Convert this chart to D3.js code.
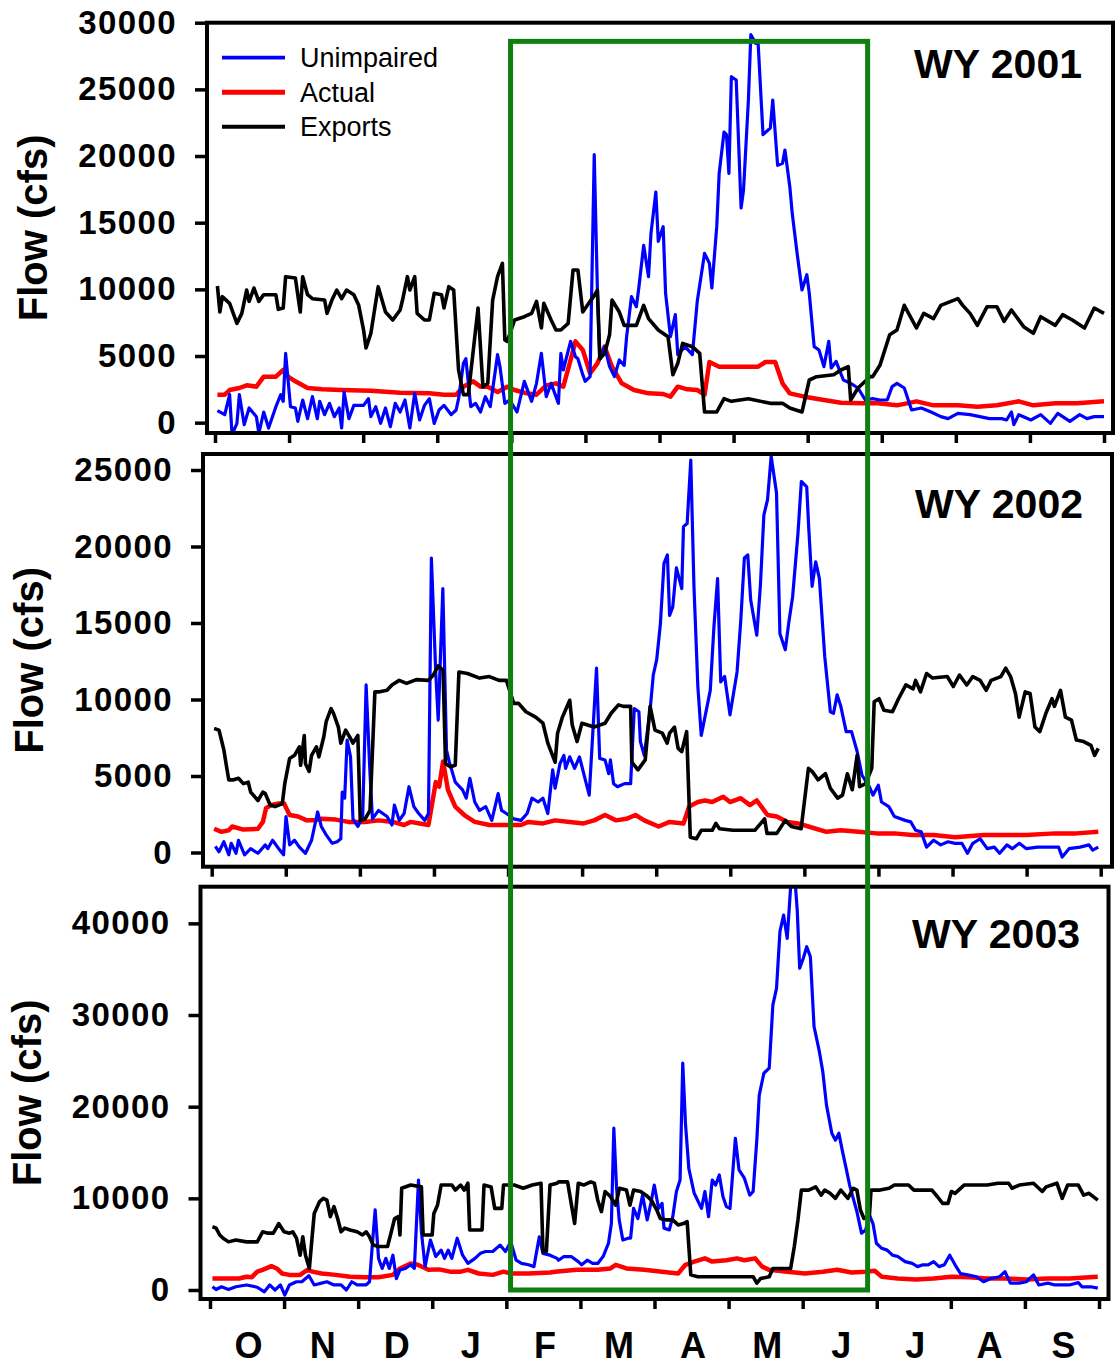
<!DOCTYPE html>
<html>
<head>
<meta charset="utf-8">
<script src="https://cdn.jsdelivr.net/npm/d3@7"></script>
<style>
  body { margin: 0; background: #fff; }
  svg text { font-family: Arial, "Liberation Sans", sans-serif; }
</style>
</head>
<body>
<div id="chart"></div>
<script>
// water year months, Oct..Sep
const months = ["O","N","D","J","F","M","A","M","J","J","A","S"];
const yearLabels = ["WY 2001","WY 2002","WY 2003"];
const seriesNames = ["Unimpaired","Actual","Exports"];
const yTicks2001 = [0,5000,10000,15000,20000,25000,30000];
const yTicks2002 = [0,5000,10000,15000,20000,25000];
const yTicks2003 = [0,10000,20000,30000,40000];
// highlighted period (days of water year) and flow range of the box
const highlightDays = [123.4, 270];
const highlightFlow = [28600, 0];

// [day of water year, flow cfs]
const unimpaired2001 = [[1,900],[4,600],[6,2100],[7,-900],[9,-50],[10,2100],[12,-150],[14,1100],[17,450],[18,-800],[20,800],[22,-400],[25,1200],[27,2100],[28,1600],[29,5200],[31,1200],[33,1100],[34,100],[36,1700],[38,300],[40,1950],[42,300],[43,1600],[45,600],[47,1450],[49,450],[51,1100],[52,-400],[53,2300],[55,300],[57,1300],[61,1300],[63,1800],[64,450],[66,1200],[68,-50],[70,1100],[72,-300],[74,1450],[76,800],[78,1700],[80,-400],[82,2200],[84,200],[86,1300],[88,1800],[90,-50],[92,950],[94,1300],[97,600],[99,950],[100,1800],[102,4450],[103,4800],[105,1200],[107,1450],[109,800],[111,1950],[113,1200],[116,5100],[117,4200],[119,1450],[121,1700],[124,800],[127,3100],[130,1600],[132,2950],[134,5200],[136,1950],[138,2950],[141,1450],[142,5200],[143,3950],[146,6100],[148,4950],[149,4800],[151,3600],[152,3100],[154,3450],[155.7,20100],[157,9950],[158,4800],[160,5700],[162,4200],[164,3450],[166,4700],[168,4300],[169,6450],[171,9450],[173,8700],[174,10100],[176,13300],[178,10950],[179,14200],[181,17300],[182,13600],[184,14700],[185,9700],[187,6450],[189,8100],[190,5100],[193,5700],[196,5100],[198,9100],[201,12700],[203,11950],[204,10100],[206,14700],[207,18700],[209,21800],[210,21600],[211,18700],[212,25950],[214,25700],[216,16100],[217,17450],[219,24200],[220,29100],[222,28450],[223,28450],[225,21600],[228,22100],[229,24200],[231,19300],[233,19450],[234,20450],[236,17700],[237,15700],[239,12700],[241,9950],[243,11100],[244,9700],[246,5700],[248,5450],[250,4200],[252,6100],[253,4100],[255,4600],[258,3200],[261,2950],[264,2600],[267,1700],[270,1800],[273,1700],[276,1700],[278,2700],[280,2950],[283,2600],[286,950],[290,1100],[294,800],[298,450],[301,300],[305,700],[310,600],[314,450],[318,300],[323,300],[325,200],[327,800],[328,-150],[330,600],[335,200],[339,600],[343,-50],[346,700],[351,100],[355,600],[358,300],[361,450],[365,450]];
const actual2001 = [[1,2100],[4,2100],[6,2450],[10,2600],[13,2800],[17,2700],[20,3450],[25,3450],[28,3950],[30,3450],[33,3100],[38,2600],[44,2500],[52,2450],[64,2400],[76,2250],[88,2200],[94,2100],[99,2100],[102,2700],[106,3100],[109,2700],[112,2700],[116,2300],[120,2700],[123,2450],[128,2200],[132,2100],[136,2800],[140,2950],[143,2700],[146,4700],[148,6100],[151,5450],[154,3700],[157,4450],[160,5700],[163,4200],[167,2950],[172,2450],[178,2200],[184,2150],[187,1950],[190,2700],[194,2500],[198,2450],[201,2100],[203,4550],[207,4200],[216,4200],[223,4200],[226,4550],[230,4550],[233,2950],[236,2200],[242,1950],[250,1700],[257,1500],[266,1450],[272,1450],[280,1300],[288,1600],[295,1300],[305,1300],[313,1200],[321,1300],[330,1600],[336,1300],[345,1450],[354,1450],[365,1600]];
const exports2001 = [[1,10250],[2,8300],[3,9450],[6,8950],[9,7450],[11,8200],[13,9950],[14,9100],[16,10100],[18,9100],[20,9600],[25,9600],[26,8500],[28,8600],[29,10950],[33,10850],[35,8300],[36,10950],[38,9600],[40,9300],[45,9200],[46,8200],[48,9200],[50,9950],[52,9300],[54,9950],[57,9600],[59,8800],[61,6950],[62,5600],[64,6700],[67,10200],[70,8300],[73,7700],[76,8450],[77,9200],[79,10950],[80,9950],[82,10950],[83,8200],[86,7700],[88,7700],[90,9700],[93,9600],[94,8600],[96,10200],[98,9950],[100,3950],[102,2100],[104,2100],[108,8600],[110,2700],[112,2950],[114,9200],[116,10950],[118,11950],[119,6200],[120,6100],[123,7700],[127,7950],[130,8200],[132,9100],[134,7100],[135,8950],[138,7700],[140,6950],[142,6950],[145,7450],[147,11450],[149,11450],[151,8300],[154,9100],[156,9600],[157,9950],[158,4800],[160,5200],[162,6600],[163,9200],[166,8300],[168,7300],[173,7300],[176,8800],[178,7800],[182,6950],[186,6450],[188,3600],[190,4450],[192,5950],[196,5700],[199,5200],[201,800],[206,800],[209,1800],[212,1600],[219,1800],[228,1450],[233,1450],[236,1100],[241,800],[244,3200],[247,3450],[254,3600],[257,3950],[260,4200],[261,1700],[264,2600],[269,3450],[270,3450],[273,4300],[277,6600],[280,6950],[283,8800],[288,7100],[291,8200],[295,7800],[298,8800],[305,9300],[307,8800],[310,8200],[313,7300],[317,8700],[321,8700],[324,7600],[327,8450],[332,7200],[336,6700],[339,7950],[345,7300],[348,8100],[352,7700],[357,7100],[361,8600],[365,8200]];

const unimpaired2002 = [[1.5,400],[3,50],[5,700],[7,-150],[8,600],[10,-50],[11,800],[13.5,-150],[16,250],[19,-50],[22,500],[23,250],[25,800],[27.5,250],[29.5,-150],[30.5,2350],[32,500],[34,800],[36,350],[38.5,-50],[41,800],[43.5,2650],[45,1700],[47,1150],[49.5,600],[51.5,700],[53,900],[53.6,3950],[54.6,3550],[55.6,7350],[57,6250],[58,2200],[60,1700],[62,2350],[63.4,10950],[65,5150],[66,2200],[68.5,2750],[72,2350],[74,1800],[75,3100],[77,2100],[79,2550],[81,4300],[83,3000],[85,2550],[87.5,2100],[89,2550],[90.2,19250],[92,11700],[93,8650],[94.9,17250],[96.4,6700],[97.5,5950],[100,4600],[103,4100],[104.5,3550],[106,4850],[108,3300],[110,2750],[112.5,3000],[115,2100],[117.6,3850],[119,2750],[121,2550],[124,2200],[127,2100],[129.5,2550],[131.5,3550],[134,3300],[136,3550],[138,2550],[140,5400],[141,4200],[143,5800],[144.6,6350],[145.3,5500],[147,6250],[149,5500],[151,6250],[153.4,4750],[155,3750],[158,12050],[159.3,6150],[161.5,6050],[163,5150],[163.7,6050],[165,4500],[166.6,4300],[169.5,4500],[172,4500],[173.5,9400],[175.4,9200],[176,7250],[177.6,6350],[180,9300],[181.3,11600],[182.7,12600],[184.2,14900],[185.7,18900],[187.1,19450],[188,15500],[189.3,16050],[190.8,18600],[193,17250],[193.7,21300],[195.2,21500],[196.7,25650],[198,17400],[199.6,10850],[201,7650],[202.5,8850],[204.7,10600],[206.2,14750],[207.7,17900],[209,11150],[210.6,11500],[212.8,9000],[215.7,11800],[217.2,15100],[218.7,19250],[220.1,19450],[221.3,16500],[223.8,14200],[225.3,17500],[226.7,22050],[228.2,23050],[229.7,25900],[231.9,23500],[233.3,14300],[235.5,13250],[237,15100],[238.5,16700],[240.7,20850],[242.1,24250],[244.3,23900],[245.1,21300],[246.5,17400],[248,19000],[249.5,17900],[251.7,12800],[254,9200],[255.3,9100],[256.8,10300],[258.3,9550],[260.5,7900],[262.7,7900],[265,6600],[267,5050],[270,4300],[271.5,3750],[273.7,4400],[275,3300],[278,3000],[280.3,2350],[284.7,2100],[287,2000],[289,1450],[291.3,1350],[293.5,350],[296.4,800],[299.3,500],[302.3,700],[305.2,600],[308,600],[310.3,-50],[312.5,600],[315.5,900],[318.4,250],[321.3,350],[323.5,-50],[326.5,500],[328.7,250],[331.6,600],[334.5,250],[339,350],[345,350],[347.7,350],[349.2,-300],[352,250],[356.5,350],[360.2,500],[361.7,150],[364,350]];
const actual2002 = [[1,1550],[4,1350],[7,1450],[8.4,1700],[13,1500],[19,1550],[21,2000],[22.3,2900],[24.5,3100],[27.5,3200],[29.7,3200],[32,2450],[35.5,2350],[39,2100],[42,2100],[45,2200],[51,2150],[56,2000],[63,2000],[68.5,2100],[74.4,2000],[79,1800],[81.7,2000],[85.4,1900],[89,1800],[90.5,3200],[92,4600],[93.4,4300],[95,5950],[97,4100],[100,3000],[103.7,2450],[108,2000],[114,1800],[121,1800],[127,1800],[130,2000],[136,1900],[141,2100],[147,2000],[152.7,1900],[157,2100],[161.5,2450],[166,2100],[170.3,2200],[174,2450],[177.6,2100],[183.5,1700],[188,2000],[193.7,1900],[196,3000],[199.6,3300],[202.5,3400],[205.5,3300],[210,3650],[212.8,3300],[217.2,3550],[221,3100],[223.8,3400],[228.2,2450],[232,2350],[236.3,2000],[240.7,1900],[245,1700],[252.4,1350],[258.3,1450],[265.6,1350],[273,1250],[280.3,1250],[287.6,1150],[296.4,1150],[305.2,1000],[317,1150],[325.7,1150],[334.5,1150],[346.3,1250],[355,1250],[364,1350]];
const exports2002 = [[1,8100],[3,8000],[5,6700],[6,5700],[7,4750],[9,4750],[11,4850],[13,4500],[15,4600],[16,3950],[19,3400],[21,3950],[22,3850],[24,3100],[26,3000],[29,3200],[30,4500],[32,6150],[34,6350],[36,6900],[36.5,5700],[38,7650],[38.5,5800],[40,5300],[41,6350],[43,6900],[44,6250],[46,7550],[47,8550],[49,9400],[50,9100],[52,8200],[53,7150],[55,8000],[57,7450],[58,7150],[60,7650],[61,2100],[63,2200],[65,2750],[67,10500],[69,10500],[72,10600],[74,10950],[77,11250],[80,11050],[84,11300],[89,11250],[91,11600],[93,12200],[95,11900],[96,5800],[98,5600],[100,5700],[101.5,11800],[105,11700],[110,11400],[114,11500],[118,11250],[121,11250],[124,9750],[126,9750],[129,9200],[133,8850],[136,8450],[138,7150],[141,5900],[142,7800],[144,8850],[147,9950],[148,8350],[150,7250],[152,8450],[157,8200],[161.5,8450],[164,9100],[167,9650],[169,9550],[172,9550],[172.5,5900],[175,5400],[178,6050],[180,9550],[182,8000],[185,7800],[187,7150],[188,7800],[190,8200],[191.5,6800],[193,6600],[195,7900],[196.5,1000],[199,900],[201,1450],[205.5,1450],[207,1900],[208.5,1550],[214,1450],[223,1450],[227,2200],[228,1250],[232,1250],[235.5,2100],[238,1700],[242,1550],[245,5500],[246.5,5300],[249,4750],[252,5150],[254,4200],[257,3550],[259,3750],[261,5150],[263,4100],[265,6350],[266,4300],[268.5,4500],[271,5500],[272,9850],[274,10050],[276,9300],[279.5,9200],[282,10050],[285,10950],[288,10700],[289,11250],[291,10500],[293.5,11700],[296,11400],[302,11500],[304.5,10850],[307,11600],[310,10950],[312.5,11500],[315.5,11250],[318,10600],[320,11250],[324,11500],[326,12050],[328,11500],[330,10400],[331.5,8850],[334,10500],[336,10400],[338,8200],[340,7900],[342.5,9100],[345,10050],[346,9550],[348.5,10600],[350.5,8850],[353,8650],[355,7350],[358,7250],[361,7000],[362.5,6350],[364,6800]];

const unimpaired2003 = [[1,350],[2.5,50],[4.7,350],[7.6,50],[10.6,350],[15,550],[19.4,300],[22.3,-200],[24.5,550],[26.7,0],[28.9,550],[30.7,-550],[32.6,550],[35.5,900],[37.7,900],[40.6,1550],[42.8,550],[45.8,750],[48,900],[50.9,550],[53.8,550],[56,0],[58.2,900],[60.4,550],[64.1,550],[65.5,900],[66.6,4750],[67.8,8750],[69.2,3450],[70.7,2350],[72.2,3450],[73.6,2350],[75.1,3800],[76.5,1250],[78,2200],[80.2,2350],[82.4,2750],[83.9,2350],[85.6,12000],[86.8,6350],[88.3,2550],[90.5,5450],[92.7,3650],[94.9,4350],[96.3,3450],[97.8,4350],[99.3,3450],[101.5,5650],[103.7,3800],[105.9,2900],[108.8,3450],[111,4000],[113.2,4200],[116.1,4200],[119.1,4900],[121.3,4200],[123.5,5250],[125.7,3250],[127.9,2900],[130.8,2750],[133,2550],[135.2,5800],[136.7,4000],[139.6,3800],[142.5,3450],[143.1,3250],[145.3,3650],[148.3,3650],[151.2,3100],[152.6,2750],[154.9,3250],[157.1,2900],[159.2,2900],[161.4,3650],[163.6,5100],[164.8,7250],[165.8,17650],[166.9,11250],[168,7650],[169.5,5450],[171.7,5650],[172.7,5650],[173.9,8900],[175.7,7800],[177.6,10350],[179.5,7650],[181,9450],[182.4,11450],[184.2,8900],[185.6,9450],[186.4,6750],[188.6,6550],[190,8000],[191.5,10750],[193,12000],[194.1,24750],[195.2,18200],[196.6,13250],[198.8,10550],[201.8,8900],[203.2,10750],[204.7,8000],[206.2,12000],[207.6,11450],[209.1,12550],[210.6,10200],[212,9100],[213.5,8900],[215.7,16550],[217.2,13100],[219.4,12200],[221.6,10350],[223,10750],[224.5,16350],[225.5,21250],[227.4,23650],[229.6,24200],[231.1,31100],[232.6,32900],[234,39100],[235.5,40900],[237,38350],[238.4,44000],[240.2,44700],[241.1,41450],[242.1,35100],[243.6,36200],[245,37450],[246.5,36350],[248,28750],[250.2,26000],[251.6,23800],[253.1,20200],[255.3,17100],[256.8,16350],[258.2,17100],[259.7,15100],[261.2,13250],[262.6,11450],[264.1,10000],[265.6,8550],[267.5,6200],[269.2,6550],[270.7,8200],[272.2,7250],[273.6,5100],[275.8,4550],[278,4350],[280.2,3800],[282.4,3650],[285.4,3100],[288.3,2900],[290.5,2550],[292.7,2750],[294.9,2750],[297.1,3100],[299.3,2550],[301.5,2750],[303.7,3800],[305.9,2750],[308.1,1800],[311,1650],[314.7,1450],[317.6,900],[320.5,1250],[324.2,1450],[326.4,2000],[328.6,750],[332.3,750],[335.2,900],[338.1,1650],[340.3,550],[344,750],[346.9,550],[352.8,550],[356.5,800],[358,350],[361.6,350],[364.5,200]];
const actual2003 = [[1,1250],[7.6,1250],[12,1250],[15,1450],[17.2,1400],[19.4,2000],[21.6,2200],[25.2,2600],[27.4,2350],[29.6,1800],[32.6,1650],[37,1650],[40,2200],[42.1,2000],[45.8,1800],[51.6,1650],[57.5,1450],[63.4,1400],[69.2,1400],[75.1,1650],[78,2350],[82.4,2900],[85.3,2750],[89.7,2200],[94.1,2250],[98.5,2000],[102.9,2000],[105.9,2200],[110.3,1800],[116.1,1650],[120.5,2000],[123.5,1800],[130.8,1800],[139.6,1900],[141.7,2000],[150.5,2200],[159.2,2200],[164.4,2350],[166.6,2750],[171,2350],[178.3,2200],[185.6,2000],[192.2,1800],[195.2,2750],[198.8,3100],[203.2,3450],[206.2,3100],[212,3250],[216.4,3450],[219.4,3250],[223.8,3450],[226.7,2550],[229.6,2200],[237,2000],[244.3,1800],[251.6,2000],[257.5,2200],[263.4,1900],[269.2,2000],[272.9,2100],[275.8,1450],[282.4,1250],[289.8,1150],[297.1,1250],[304.4,1450],[311.7,1400],[319.1,1250],[326.4,1250],[335.2,1150],[344,1250],[352.8,1250],[364.5,1450]];
const exports2003 = [[1,6900],[2.5,6750],[4,6000],[5.4,5650],[7.6,5250],[10.6,5450],[15,5250],[19.4,5250],[21.6,6350],[23.8,6200],[26,6200],[28.2,7250],[30.4,6350],[32.6,6200],[34,6350],[35.5,5650],[37,3800],[38.1,5800],[39.2,3800],[40.8,2350],[41.7,5100],[42.8,8350],[45,9650],[46.5,10000],[48,9800],[49.4,8000],[50.9,9100],[52.4,7800],[53.8,6350],[55.3,6750],[57.5,6550],[60.4,6350],[62.6,6000],[64.1,6350],[65.5,5800],[67,4900],[69.2,4750],[72.9,4750],[74.3,6200],[75.8,7800],[77.3,8000],[78,6000],[78.7,11100],[82.4,11450],[86.8,11250],[87.5,6000],[91.2,6000],[91.9,8350],[93.4,9250],[94.9,11450],[99.3,11450],[100.7,10900],[102.9,11450],[104.4,10900],[105.9,11650],[106.6,6550],[111.7,6550],[112.5,11450],[115.4,11250],[116.9,8900],[119.8,8900],[120.5,11450],[124.9,11450],[128.6,11100],[132.3,11450],[135.9,11650],[136.7,4200],[138.1,4200],[139.6,11450],[142.5,11650],[143.1,11800],[146.8,11800],[148.3,9450],[149.7,7250],[151.2,11650],[153.4,11450],[156.3,11800],[157.8,11650],[159.2,9800],[160.7,8550],[162.2,10750],[164.4,10200],[166.6,9250],[168.1,11100],[171,10900],[172.4,9250],[173.9,10900],[176.8,10750],[179,10350],[181.2,9800],[183.4,8750],[184.9,7800],[187.1,7650],[190,7650],[192.2,7100],[194.4,7250],[195.9,7450],[197.4,1650],[200.3,1450],[207.6,1450],[215,1450],[223,1450],[224.5,750],[226,1250],[229.6,1450],[231.1,2350],[238.4,2350],[239.9,4750],[241.4,7650],[242.8,10900],[245.8,10900],[248.7,11250],[250.9,10350],[252.4,10900],[254.6,10550],[256.8,10000],[259,10900],[261.9,10000],[264.1,11100],[265.6,10900],[267,8750],[268.5,7800],[270.7,8000],[271.4,10900],[275.1,10900],[278.8,11100],[281,11450],[286.8,11450],[289,10900],[292.7,10900],[296.4,10900],[298.6,10200],[300.8,9450],[303,9450],[304.4,10750],[305.9,10550],[309.6,11450],[314.7,11450],[319.1,11450],[323.5,11650],[327.9,11650],[329.3,11100],[332.3,11450],[338.1,11650],[341.7,10750],[343.3,11250],[347.7,11650],[349.9,10000],[352.1,11450],[356.5,11450],[358.7,10350],[360.9,10550],[364.5,9800]];

const width = 1115, height = 1365;
const colors = { u: "#0000ff", a: "#ff0000", e: "#000000" };
const widths = { u: 3.2, a: 4.5, e: 3.6 };

// panel geometry (pixels) - the three frames are not quite aligned in the original
const panels = [
  { year: yearLabels[0], u: unimpaired2001, a: actual2001, e: exports2001, ticks: yTicks2001,
    left: 207, right: 1113, x0: 215, top: 22.7, bottom: 433, yMin: -775, yMax: 30000, labelX: 1082, labelY: 78 },
  { year: yearLabels[1], u: unimpaired2002, a: actual2002, e: exports2002, ticks: yTicks2002,
    left: 203, right: 1112, x0: 211.7, top: 454, bottom: 866.7, yMin: -928, yMax: 26046, labelX: 1083, labelY: 518 },
  { year: yearLabels[2], u: unimpaired2003, a: actual2003, e: exports2003, ticks: yTicks2003,
    left: 200.5, right: 1108.5, x0: 210, top: 886.7, bottom: 1299, yMin: -982, yMax: 44000, labelX: 1080, labelY: 948 }
];

const svg = d3.select("#chart").append("svg")
  .attr("width", width).attr("height", height)
  .attr("viewBox", `0 0 ${width} ${height}`);

const monthTicks = d3.range(13).map(k => k * 365 / 12);

panels.forEach((p, i) => {
  p.x = d3.scaleLinear().domain([0, 365]).range([p.x0, p.x0 + 889]);
  p.y = d3.scaleLinear().domain([p.yMin, p.yMax]).range([p.bottom, p.top]);

  let g = svg.append("g").attr("class", "panel");

  svg.append("clipPath").attr("id", "clip" + i)
    .append("rect").attr("x", p.left).attr("y", p.top)
    .attr("width", p.right - p.left).attr("height", p.bottom - p.top);

  let line = d3.line().x(d => p.x(d[0])).y(d => p.y(d[1]));
  let lines = g.append("g").attr("clip-path", `url(#clip${i})`);
  ["a", "u", "e"].forEach(k => {
    lines.append("path").attr("d", line(p[k]))
      .attr("fill", "none").attr("stroke", colors[k])
      .attr("stroke-width", widths[k]).attr("stroke-linejoin", "round");
  });

  // frame
  g.append("rect").attr("x", p.left).attr("y", p.top)
    .attr("width", p.right - p.left).attr("height", p.bottom - p.top)
    .attr("fill", "none").attr("stroke", "#000").attr("stroke-width", 4);

  let yAxis = d3.axisLeft(p.y).tickValues(p.ticks).tickSize(12).tickPadding(18).tickFormat(d3.format("d"));
  let yg = g.append("g").attr("transform", `translate(${p.left},0)`).call(yAxis);
  yg.select(".domain").remove();
  yg.selectAll("line").attr("stroke-width", 3.5);
  yg.selectAll("text").attr("font-size", 33).attr("font-weight", "bold")
    .attr("letter-spacing", 1.4).attr("fill", "#000")
    .attr("font-family", "Arial, 'Liberation Sans', sans-serif");

  let xAxis = d3.axisBottom(p.x).tickValues(monthTicks).tickSize(10).tickFormat("");
  let xg = g.append("g").attr("transform", `translate(0,${p.bottom})`).call(xAxis);
  xg.select(".domain").remove();
  xg.selectAll("line").attr("stroke-width", 3.5);

  g.append("text").attr("x", p.labelX).attr("y", p.labelY)
    .attr("text-anchor", "end").attr("font-size", 41).attr("font-weight", "bold")
    .text(p.year);

  g.append("text")
    .attr("transform", `translate(${p.left - 160},${(p.top + p.bottom) / 2}) rotate(-90)`)
    .attr("text-anchor", "middle").attr("font-size", 40).attr("font-weight", "bold")
    .text("Flow (cfs)");
});

// month labels under the last panel
let last = panels[2];
svg.append("g").selectAll("text").data(months).enter().append("text")
  .attr("x", (d, k) => last.x((k + 0.5) * 365 / 12) + 1.5)
  .attr("y", 1358)
  .attr("text-anchor", "middle").attr("font-size", 36).attr("font-weight", "bold")
  .text(d => d);

// legend in the first panel
let legend = svg.append("g");
["u", "a", "e"].forEach((k, j) => {
  let ly = 57.7 + j * 34.5;
  legend.append("line").attr("x1", 222).attr("x2", 285).attr("y1", ly).attr("y2", ly)
    .attr("stroke", colors[k]).attr("stroke-width", widths[k] + 0.5);
  legend.append("text").attr("x", 300).attr("y", ly + 9.5)
    .attr("font-size", 27).text(seriesNames[j]);
});

// highlight box spanning all three panels
let bx0 = last.x(highlightDays[0]), bx1 = last.x(highlightDays[1]);
let by0 = panels[0].y(highlightFlow[0]), by1 = last.y(highlightFlow[1]);
svg.append("rect").attr("x", bx0).attr("y", by0)
  .attr("width", bx1 - bx0).attr("height", by1 - by0)
  .attr("fill", "none").attr("stroke", "#0f800f").attr("stroke-width", 5);
</script>
</body>
</html>
